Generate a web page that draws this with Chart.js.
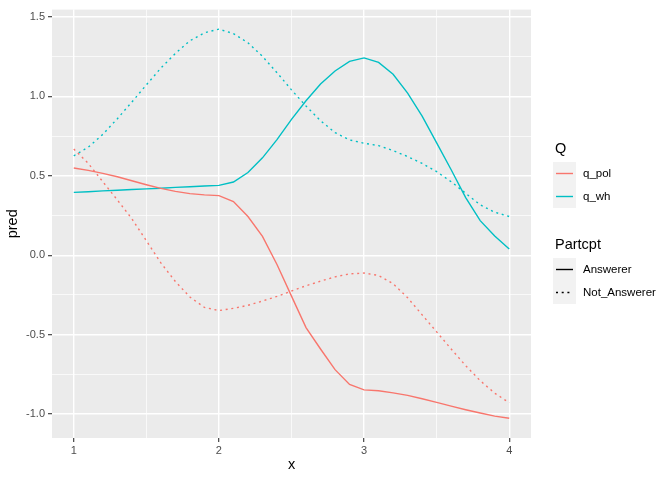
<!DOCTYPE html>
<html>
<head>
<meta charset="utf-8">
<script src="https://cdn.jsdelivr.net/npm/chart.js@4"></script>
<style>
  body { margin: 0; background: #fff; }
  #wrap { position: relative; width: 672px; height: 480px; font-family: "Liberation Sans", Arial, sans-serif; }
  #chart { position: absolute; left: 0; top: 0; }
  .ttl { position: absolute; font-size: 14.5px; color: #000; }
  .keys { position: absolute; left: 553px; width: 23px; height: 46px; background: #F2F2F2; }
  .lab { position: absolute; left: 583px; font-size: 11.5px; color: #000; line-height: 14px; }
  .keys svg { position: absolute; left: 0; top: 0; }
</style>
</head>
<body>
<div id="wrap">
  <canvas id="chart" width="672" height="480"></canvas>

  <div class="ttl" style="left:555px; top:140px;">Q</div>
  <div class="keys" style="top:162px;">
    <svg width="23" height="46">
      <line x1="3" y1="11.5" x2="20" y2="11.5" stroke="#F8766D" stroke-width="1.4"/>
      <line x1="3" y1="34.5" x2="20" y2="34.5" stroke="#00BFC4" stroke-width="1.4"/>
    </svg>
  </div>
  <div class="lab" style="top:166px;">q_pol</div>
  <div class="lab" style="top:189px;">q_wh</div>

  <div class="ttl" style="left:555px; top:236px;">Partcpt</div>
  <div class="keys" style="top:258px;">
    <svg width="23" height="46">
      <line x1="3" y1="11.5" x2="20" y2="11.5" stroke="#000" stroke-width="1.4"/>
      <line x1="3" y1="34.5" x2="20" y2="34.5" stroke="#000" stroke-width="1.4" stroke-dasharray="2 3.7"/>
    </svg>
  </div>
  <div class="lab" style="top:262px;">Answerer</div>
  <div class="lab" style="top:285px;">Not_Answerer</div>
</div>

<script>
// x grid of the predictions
const xs = [1.0, 1.1, 1.2, 1.3, 1.4, 1.5, 1.6, 1.7, 1.8, 1.9, 2.0,
            2.1, 2.2, 2.3, 2.4, 2.5, 2.6, 2.7, 2.8, 2.9, 3.0,
            3.1, 3.2, 3.3, 3.4, 3.5, 3.6, 3.7, 3.8, 3.9, 4.0];

// pred values
const polAnswerer = [0.549, 0.534, 0.515, 0.494, 0.469, 0.444, 0.421, 0.402, 0.388, 0.380, 0.375,
                     0.338, 0.244, 0.119, -0.058, -0.257, -0.455, -0.590, -0.720, -0.813, -0.847,
                     -0.853, -0.866, -0.882, -0.903, -0.926, -0.949, -0.972, -0.993, -1.012, -1.026];
const polNotAnswerer = [0.668, 0.578, 0.463, 0.348, 0.230, 0.092, -0.048, -0.165, -0.263, -0.328, -0.348,
                        -0.334, -0.315, -0.288, -0.259, -0.225, -0.192, -0.163, -0.136, -0.117, -0.112,
                        -0.127, -0.179, -0.267, -0.375, -0.482, -0.590, -0.695, -0.789, -0.868, -0.928];
const whAnswerer = [0.396, 0.400, 0.405, 0.409, 0.414, 0.418, 0.422, 0.427, 0.431, 0.436, 0.440,
                    0.461, 0.521, 0.613, 0.728, 0.855, 0.972, 1.078, 1.160, 1.220, 1.242,
                    1.214, 1.139, 1.020, 0.876, 0.707, 0.538, 0.363, 0.218, 0.121, 0.039];
const whNotAnswerer = [0.626, 0.680, 0.761, 0.859, 0.964, 1.072, 1.178, 1.270, 1.350, 1.400, 1.423,
                       1.395, 1.337, 1.252, 1.149, 1.041, 0.939, 0.847, 0.772, 0.726, 0.705,
                       0.690, 0.659, 0.621, 0.578, 0.526, 0.463, 0.390, 0.317, 0.271, 0.244];

// tick positions (major + minor)
const xTicks = [1, 1.5, 2, 2.5, 3, 3.5, 4];
const yTicks = [-1, -0.75, -0.5, -0.25, 0, 0.25, 0.5, 0.75, 1, 1.25, 1.5];

const RED = "#F8766D";
const TEAL = "#00BFC4";
const DOT = [2, 3.7];

const pts = ys => xs.map((x, i) => ({ x, y: ys[i] }));
const isMajor = v => Math.abs(v * 2 - Math.round(v * 2)) < 1e-9;
const isInt = v => Math.abs(v - Math.round(v)) < 1e-9;

// grey panel behind the lines
const panelBg = {
  id: "panelBg",
  beforeDraw(chart) {
    const { ctx, chartArea: a } = chart;
    ctx.save();
    ctx.fillStyle = "#EBEBEB";
    ctx.fillRect(a.left, a.top, a.right - a.left, a.bottom - a.top);
    ctx.restore();
  }
};

function line(label, ys, color, dash) {
  return {
    label, data: pts(ys),
    borderColor: color, borderWidth: 1.4,
    borderDash: dash || [], borderCapStyle: "butt",
    pointRadius: 0, tension: 0, fill: false
  };
}

new Chart(document.getElementById("chart").getContext("2d"), {
  type: "line",
  data: {
    datasets: [
      line("q_pol Answerer", polAnswerer, RED),
      line("q_pol Not_Answerer", polNotAnswerer, RED, DOT),
      line("q_wh Answerer", whAnswerer, TEAL),
      line("q_wh Not_Answerer", whNotAnswerer, TEAL, DOT)
    ]
  },
  options: {
    responsive: false,
    animation: false,
    layout: { padding: { top: 7, right: 141, left: 0, bottom: 0 } },
    plugins: { legend: { display: false }, tooltip: { enabled: false } },
    scales: {
      x: {
        type: "linear", min: 0.85, max: 4.15,
        afterBuildTicks: s => { s.ticks = xTicks.map(v => ({ value: v })); },
        afterFit: s => { s.height = 42; },
        ticks: {
          autoSkip: false, maxRotation: 0, padding: 2,
          color: "#4D4D4D", font: { family: "Liberation Sans", size: 11 },
          callback: v => isInt(v) ? String(v) : ""
        },
        grid: {
          color: "#FFFFFF",
          lineWidth: c => isInt(c.tick.value) ? 1.4 : 0.7,
          tickColor: c => isInt(c.tick.value) ? "#333333" : "rgba(0,0,0,0)",
          tickLength: 4, tickWidth: 1.1
        },
        border: { display: false },
        title: {
          display: true, text: "x", color: "#000",
          font: { family: "Liberation Sans", size: 14.5 },
          padding: { top: 0, bottom: 6 }
        }
      },
      y: {
        type: "linear", min: -1.15, max: 1.546,
        afterBuildTicks: s => { s.ticks = yTicks.map(v => ({ value: v })); },
        afterFit: s => { s.width = 52; },
        ticks: {
          autoSkip: false, padding: 3,
          color: "#4D4D4D", font: { family: "Liberation Sans", size: 11 },
          callback: v => isMajor(v) ? v.toFixed(1) : ""
        },
        grid: {
          color: "#FFFFFF",
          lineWidth: c => isMajor(c.tick.value) ? 1.4 : 0.7,
          tickColor: c => isMajor(c.tick.value) ? "#333333" : "rgba(0,0,0,0)",
          tickLength: 4, tickWidth: 1.1
        },
        border: { display: false },
        title: {
          display: true, text: "pred", color: "#000",
          font: { family: "Liberation Sans", size: 14.5 },
          padding: { top: 4, bottom: 0 }
        }
      }
    }
  },
  plugins: [panelBg]
});
</script>
</body>
</html>
